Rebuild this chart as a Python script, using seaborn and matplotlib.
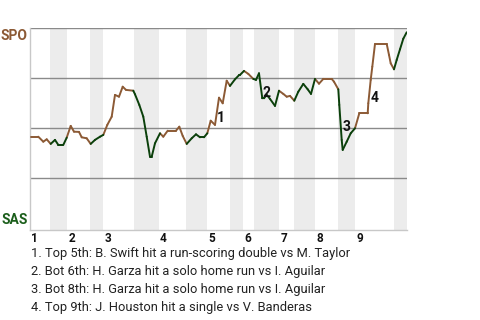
import matplotlib
matplotlib.use("Agg")
import matplotlib.pyplot as plt
import seaborn as sns
import pandas as pd
import numpy as np

# ---- data ----
# game progress position of each play and SPO win probability
play_pos = [1, 8.3, 13.3, 16.7, 20.7, 25, 28.3, 33.3, 36.7, 40.7, 44, 49, 51.7, 56.7,
            60.7, 65, 70, 73.3, 77.3, 81.7, 85, 89, 92.7, 96, 103.3, 105, 109.3, 113.3,
            116.7, 120, 121.7, 125, 130, 133.3, 137.7, 146, 149.3, 152.7, 156.7, 161.7,
            166, 170, 174, 177.3, 180.7, 185, 189, 192.7, 196.7, 200, 205, 209.3, 210,
            214, 218.3, 223.3, 226, 229, 232.3, 234, 236.7, 240, 245, 249, 253.3, 256.7,
            260, 264.3, 268.3, 273.3, 277.7, 281, 285, 289, 293.3, 301.7, 304, 308.3,
            309.3, 311.7, 312.7, 316.7, 320.7, 325, 329.3, 337.7, 338.3, 340.7, 342.3,
            345, 356.7, 359, 360.7, 364, 366.7, 370, 373.3, 376.7]
spo_wp = [0.458, 0.458, 0.433, 0.445, 0.422, 0.442, 0.417, 0.417, 0.453, 0.512, 0.483,
          0.482, 0.455, 0.450, 0.422, 0.442, 0.458, 0.467, 0.517, 0.558, 0.667, 0.658,
          0.708, 0.692, 0.688, 0.670, 0.617, 0.558, 0.458, 0.358, 0.358, 0.425, 0.475,
          0.458, 0.488, 0.488, 0.508, 0.462, 0.422, 0.450, 0.470, 0.455, 0.455, 0.475,
          0.538, 0.517, 0.653, 0.625, 0.738, 0.712, 0.745, 0.767, 0.767, 0.787, 0.772,
          0.747, 0.742, 0.775, 0.650, 0.650, 0.667, 0.647, 0.612, 0.688, 0.672, 0.658,
          0.662, 0.638, 0.683, 0.722, 0.695, 0.672, 0.747, 0.723, 0.747, 0.747, 0.733,
          0.695, 0.617, 0.442, 0.392, 0.433, 0.475, 0.500, 0.575, 0.575, 0.625, 0.742,
          0.808, 0.922, 0.922, 0.867, 0.825, 0.795, 0.842, 0.895, 0.948, 0.98]
# half-inning boundaries (start of each half inning), top halves = SPO batting
half_starts = [0, 20, 37, 60, 73, 104, 128.5, 156, 177, 200, 213, 224, 249, 264, 285,
               308, 325, 364]
game_end = 377
innings = ["1", "2", "3", "4", "5", "6", "7", "8", "9"]
team_top, team_bottom = "SPO", "SAS"
notes = ["1. Top 5th: B. Swift hit a run-scoring double vs M. Taylor",
         "2. Bot 6th: H. Garza hit a solo home run vs I. Aguilar",
         "3. Bot 8th: H. Garza hit a solo home run vs I. Aguilar",
         "4. Top 9th: J. Houston hit a single vs V. Banderas"]
note_pos = [190.7, 236.7, 316.7, 344.3]
note_wp = [0.553, 0.678, 0.508, 0.653]

BROWN = "#8c5a35"
GREEN = "#0b400b"

sns.set_theme(style="white")
plt.rcParams["font.family"] = ["Liberation Sans Narrow", "Roboto", "DejaVu Sans"]

fig = plt.figure(figsize=(4.8, 3.2), dpi=100)
ax = fig.add_axes([30 / 480, 1 - 230 / 320, 377 / 480, (230 - 28.3) / 320])

# half-inning shading (bottom halves)
bounds = half_starts + [game_end]
for i in range(len(half_starts)):
    if i % 2 == 1:
        ax.axvspan(bounds[i], bounds[i + 1], color="#ececec", lw=0, zorder=0)

for gy in [0.25, 0.5, 0.75, 1.0]:
    ax.axhline(gy, color="#8a8a8a", lw=1.0, zorder=1)

# build colored segments by half inning
def half_of(x):
    idx = np.searchsorted(half_starts, x, side="right") - 1
    return "top" if idx % 2 == 0 else "bot"

rows = []
for i in range(1, len(play_pos)):
    mid = 0.5 * (play_pos[i - 1] + play_pos[i])
    h = half_of(mid)
    for j in (i - 1, i):
        rows.append({"pos": play_pos[j], "wp": spo_wp[j], "seg": i, "half": h})
df = pd.DataFrame(rows)
sns.lineplot(data=df, x="pos", y="wp", hue="half", units="seg", estimator=None,
             sort=False, palette={"top": BROWN, "bot": GREEN}, lw=1.4,
             legend=False, ax=ax, zorder=3)

ax.set_xlim(0, game_end)
ax.set_ylim(-0.0085, 1.0)
ax.set_xticks([])
ax.set_yticks([])
ax.set_xlabel("")
ax.set_ylabel("")
for s in ["top", "right"]:
    ax.spines[s].set_visible(False)
for s in ["left", "bottom"]:
    ax.spines[s].set_color("#c8c8c8")
    ax.spines[s].set_linewidth(1.0)

# team labels
ax.text(-2.5, 0.995, team_top, ha="right", va="top", fontsize=10, fontweight="bold",
        color=BROWN, clip_on=False)
ax.text(-2.5, 0.005, team_bottom, ha="right", va="bottom", fontsize=10,
        fontweight="bold", color="#1b5e1b", clip_on=False)

# inning labels
trans = ax.get_xaxis_transform()
for k, lab in enumerate(innings):
    ax.text(half_starts[2 * k] + 1.5, -0.012, lab, transform=trans, ha="left", va="top",
            fontsize=8.5, fontweight="bold", color="#111111", clip_on=False)

# note markers
for k in range(len(notes)):
    ax.text(note_pos[k], note_wp[k], str(k + 1), ha="center", va="center",
            fontsize=10, fontweight="bold", color="#111111", zorder=4)

# footnotes
for k, t in enumerate(notes):
    fig.text(31 / 480, 1 - (253.5 + 18 * k) / 320, t, ha="left", va="center",
             fontsize=9.3, color="#222222")

fig.savefig("out.png", dpi=100)
